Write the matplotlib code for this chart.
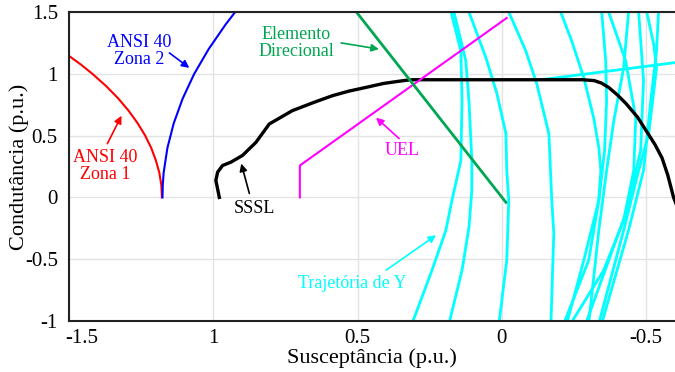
import matplotlib
matplotlib.use("Agg")
import matplotlib.pyplot as plt
import matplotlib.transforms as mtransforms

plt.rcParams["font.family"] = ["Liberation Serif", "DejaVu Serif"]

# --- data (B = susceptance, G = conductance) ---
zona1_b = [1.178, 1.180, 1.187, 1.199, 1.215, 1.236, 1.262, 1.293, 1.329, 1.371, 1.419, 1.456, 1.500, 1.52]
zona1_g = [0.0, 0.1, 0.2, 0.3, 0.4, 0.5, 0.6, 0.7, 0.8, 0.9, 1.0, 1.07, 1.145, 1.17]

zona2_b = [1.176, 1.175, 1.172, 1.159, 1.137, 1.106, 1.066, 1.016, 0.957, 0.924]
zona2_g = [0.0, 0.1, 0.2, 0.4, 0.6, 0.8, 1.0, 1.2, 1.4, 1.5]

sssl_b = [0.979, 0.991, 0.985, 0.968, 0.939, 0.899, 0.852, 0.806, 0.726, 0.650, 0.587, 0.530, 0.471,
          0.410, 0.356, 0.330, 0.310, -0.280, -0.320, -0.345, -0.370, -0.400, -0.430, -0.470, -0.500,
          -0.530, -0.555, -0.575, -0.595, -0.62]
sssl_g = [0.000, 0.137, 0.204, 0.258, 0.285, 0.339, 0.446, 0.594, 0.702, 0.770, 0.823, 0.860, 0.890,
          0.922, 0.940, 0.948, 0.952, 0.952, 0.945, 0.925, 0.890, 0.830, 0.760, 0.650, 0.540,
          0.430, 0.320, 0.180, 0.000, -0.15]

uel_b = [0.70, 0.70, -0.017]
uel_g = [0.0, 0.258, 1.452]

direc_b = [0.504, -0.014]
direc_g = [1.5, -0.040]

# trajectories of Y (one list per trajectory)
traj_b = [
    [0.176, 0.142, 0.138, 0.142, 0.173, 0.194, 0.242, 0.311],
    [0.166, 0.125, 0.114, 0.104, 0.104, 0.114, 0.138, 0.183],
    [0.114, 0.055, 0.017, -0.014, -0.017, -0.024, -0.017, 0.010],
    [-0.024, -0.083, -0.121, -0.163, -0.173, -0.180, -0.170],
    [-0.135, -0.595, -0.716],
    [-0.204, -0.242, -0.284, -0.318, -0.336, -0.343, -0.336, -0.301, -0.215],
    [-0.346, -0.360, -0.363, -0.356, -0.336, -0.284, -0.225],
    [-0.370, -0.429, -0.464, -0.457, -0.422, -0.353, -0.239],
    [-0.439, -0.422, -0.388, -0.363, -0.336, -0.301],
    [-0.502, -0.526, -0.536, -0.509, -0.474, -0.422, -0.336],
    [-0.543, -0.536, -0.516, -0.491, -0.439, -0.346],
    [-0.474, -0.491, -0.481, -0.433, -0.291],
]
traj_g = [
    [1.5, 1.185, 0.782, 0.298, -0.024, -0.266, -0.589, -1.02],
    [1.5, 1.105, 0.782, 0.298, 0.056, -0.242, -0.589, -1.02],
    [1.5, 1.129, 0.839, 0.516, 0.218, -0.024, -0.508, -1.02],
    [1.5, 1.185, 0.919, 0.516, -0.024, -0.290, -1.02],
    [0.952, 1.089, 1.121],
    [1.5, 1.266, 0.968, 0.645, 0.403, 0.218, -0.024, -0.508, -1.02],
    [1.5, 1.105, 0.782, 0.379, -0.024, -0.508, -1.02],
    [1.5, 1.105, 0.645, 0.218, -0.185, -0.589, -1.02],
    [1.5, 1.048, 0.621, 0.218, -0.266, -1.02],
    [1.5, 1.242, 1.048, 0.516, 0.218, -0.266, -1.02],
    [1.5, 1.185, 0.782, 0.218, -0.266, -1.02],
    [1.5, 0.944, 0.379, -0.105, -1.02],
]

x_ticks = [1.5, 1, 0.5, 0, -0.5]
x_labels = ["-1.5", "1", "0.5", "0", "-0.5"]
y_ticks = [-1, -0.5, 0, 0.5, 1, 1.5]
y_labels = ["-1", "-0.5", "0", "0.5", "1", "1.5"]

cyan = "#00ffff"
green = "#00a651"

fig = plt.figure(figsize=(6.75, 3.72), dpi=100)
ax = fig.add_axes([0.1022, 0.1371, 0.8978, 0.8306])

for tb, tg in zip(traj_b, traj_g):
    ax.plot(tb, tg, color=cyan, lw=2, solid_joinstyle="round")
ax.plot(zona1_b, zona1_g, color="red", lw=1.5)
ax.plot(zona2_b, zona2_g, color="blue", lw=1.5)
ax.plot(sssl_b, sssl_g, color="black", lw=2.4, solid_joinstyle="round")
ax.plot(uel_b, uel_g, color="magenta", lw=1.5)
ax.plot(direc_b, direc_g, color=green, lw=2)

ax.set_xlim(1.5, -0.6)
ax.set_ylim(-1, 1.5)
ax.set_xticks(x_ticks)
ax.set_xticklabels(x_labels)
ax.set_yticks(y_ticks)
ax.set_yticklabels(y_labels)
ax.tick_params(length=0, labelsize=15)
ax.tick_params(axis="x", pad=6)
ax.tick_params(axis="y", pad=8)
# first x label sits a bit to the right in the original
first = ax.get_xticklabels()[0]
first.set_transform(first.get_transform() + mtransforms.ScaledTranslation(0.13, 0, fig.dpi_scale_trans))

ax.grid(True, color="#e3e3e3", lw=1)
ax.set_axisbelow(True)
for s in ["top", "bottom", "left"]:
    ax.spines[s].set_linewidth(1.5)
    ax.spines[s].set_color("#222222")
ax.spines["right"].set_visible(False)

ax.set_xlabel("Susceptância (p.u.)", fontsize=16, labelpad=0)
ax.set_ylabel("Condutância (p.u.)", fontsize=16)
ax.yaxis.set_label_coords(-0.066, 0.5)

# annotations
def label(text, pos, tail, head, color):
    ax.text(pos[0], pos[1], text, color=color, fontsize=13, ha="center", va="center", linespacing=1.0)
    ax.annotate("", xy=head, xytext=tail,
                arrowprops=dict(arrowstyle="-|>", color=color, lw=1.2, mutation_scale=11, shrinkA=0, shrinkB=0))

label("ANSI 40\nZona 2", (1.256, 1.185), (1.152, 1.169), (1.083, 1.048), "blue")
label("ANSI 40\nZona 1", (1.374, 0.258), (1.367, 0.435), (1.318, 0.661), "red")
label("SSSL", (0.858, -0.089), (0.875, 0.032), (0.903, 0.274), "black")
label("UEL", (0.346, 0.379), (0.356, 0.476), (0.436, 0.645), "magenta")
label("Elemento\nDirecional", (0.713, 1.25), (0.557, 1.25), (0.426, 1.20), green)
label("Trajetória de Y", (0.519, -0.694), (0.401, -0.589), (0.228, -0.306), cyan)

fig.savefig("out.png", dpi=100)
